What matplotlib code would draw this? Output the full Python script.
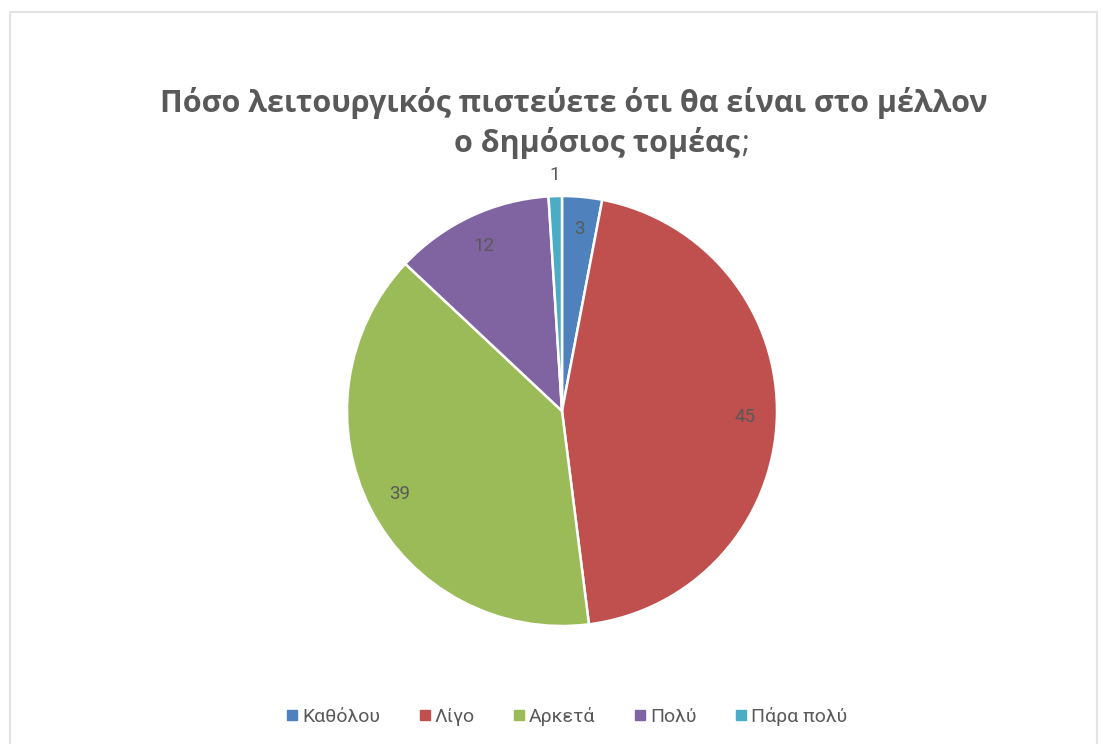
import matplotlib.pyplot as plt
from matplotlib.lines import Line2D
from matplotlib.patches import Rectangle

labels = ['Καθόλου', 'Λίγο', 'Αρκετά', 'Πολύ', 'Πάρα πολύ']
values = [3, 45, 39, 12, 1]
colors = ['#4F81BD', '#C0504D', '#9BBB59', '#8064A2', '#4BACC6']
text_color = '#595959'

W, H = 1101, 744
fig = plt.figure(figsize=(W / 100, H / 100), dpi=100)

# chart area border
fig.patches.append(Rectangle((10 / W, -0.05), 1087 / W, 1.05 - 12 / H,
                             transform=fig.transFigure, fill=False,
                             edgecolor='#e3e3e3', linewidth=1.5))

cx, cy, r = 562, 411, 215
ax = fig.add_axes([(cx - r) / W, (H - cy - r) / H, 2 * r / W, 2 * r / H])
wedges, texts = ax.pie(values, colors=colors, startangle=90, counterclock=False,
                       labels=[str(v) for v in values], labeldistance=0.85,
                       wedgeprops=dict(edgecolor='white', linewidth=1.8),
                       textprops=dict(color=text_color, fontsize=13.5, family='Roboto'))
ax.set_aspect('equal')
ax.set_xlim(-1, 1)
ax.set_ylim(-1, 1)
for t in texts:
    t.set_ha('center')

# the smallest slice is labelled outside the pie
x1, y1 = texts[4].get_position()
texts[4].set_position((x1 * 1.29, y1 * 1.29))

title_font = dict(fontsize=22, fontweight='bold', family='Open Sans', color=text_color)
fig.text(574 / W, 1 - 103 / H, 'Πόσο λειτουργικός πιστεύετε ότι θα είναι στο μέλλον',
         ha='center', va='center', **title_font)
t2 = fig.text(597 / W, 1 - 143 / H, 'ο δημόσιος τομέας', ha='center', va='center',
              **title_font)
fig.add_artist(plt.Annotation(';', xy=(1, 0), xycoords=t2, xytext=(1, 0),
                              textcoords='offset points', va='bottom', ha='left',
                              fontsize=22, family='Open Sans', color=text_color))

handles = [Line2D([], [], marker='s', linestyle='none', markersize=7,
                  markerfacecolor=c, markeredgecolor=c) for c in colors]
leg = fig.legend(handles, labels, loc='center', bbox_to_anchor=(566 / W, 1 - 716 / H),
                 ncol=5, frameon=False, handletextpad=0.1, columnspacing=1.9,
                 handlelength=0.8, prop=dict(family='Roboto', size=14))
for t in leg.get_texts():
    t.set_color(text_color)

fig.savefig('out.png', dpi=100)
